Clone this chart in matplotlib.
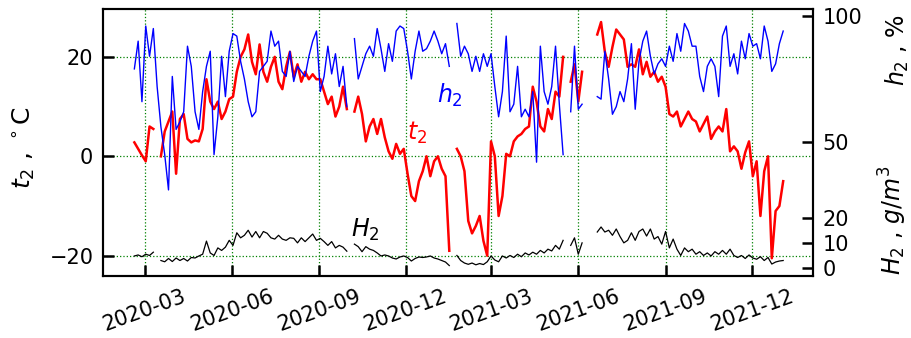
import numpy as np
import pandas as pd
import matplotlib
matplotlib.use('Agg')
import matplotlib.pyplot as plt
import matplotlib.dates as mdates

nan = np.nan

# 4-day samples, 2020-02-19 .. 2021-12-31
dates = pd.date_range('2020-02-19', periods=172, freq='4D')

# t2, deg C (left axis)
t2 = [2.8, 1.5, 0.2, -1.0, 6.0, 5.5, nan, 0.0, 5.0, 7.0,
      9.0, -3.5, 7.5, 8.5, 3.5, 2.8, 3.2, 3.0, 5.5, 15.5,
      11.0, 9.5, 11.0, 7.5, 9.0, 11.5, 12.0, 17.0, 20.0, 21.5,
      24.5, 19.0, 16.5, 22.5, 17.0, 15.0, 18.0, 20.0, 15.0, 13.5,
      18.0, 21.0, 16.0, 18.5, 15.0, 17.0, 15.5, 16.5, 15.5, 15.5,
      13.0, 10.5, 12.0, 8.0, 10.0, 14.0, 9.5, nan, 9.0, 12.0,
      8.5, 3.0, 6.0, 7.5, 4.5, 7.5, 3.8, 1.0, -0.5, 2.5,
      0.5, 1.5, -3.5, -8.0, -9.0, -5.0, -3.0, 0.0, -4.0, -1.0,
      0.0, -2.5, -4.0, -19.0, nan, 1.5, 0.0, -3.0, -13.0, -15.5,
      -14.0, -12.0, -17.0, -20.0, 3.0, 0.0, -12.0, -8.0, 0.5, 0.0,
      3.0, 4.0, 4.5, 5.5, 6.0, 14.0, 11.0, 6.0, 5.0, 9.5,
      7.5, 13.0, 12.0, 20.0, nan, 15.0, 18.5, 11.0, 17.0, nan,
      nan, nan, 24.5, 27.0, 21.0, 18.0, 22.0, 25.5, 24.5, 23.5,
      18.0, 18.5, 18.0, 21.5, 16.5, 19.0, 16.0, 17.0, 15.0, 16.0,
      14.0, 8.5, 8.0, 9.0, 6.0, 7.5, 9.0, 7.5, 7.0, 5.0,
      6.5, 8.0, 3.5, 5.0, 6.0, 5.0, 9.5, 1.0, 2.0, 1.0,
      -2.5, 0.8, 3.0, -4.0, -1.0, -12.0, -3.0, 0.0, -20.5, -11.0,
      -10.0, -5.0]

# h2, % (right axis)
h2 = [79, 90, 66, 96, 84, 95, 72, 56, 45, 31,
      76, 55, 58, 62, 88, 80, 62, 55, 70, 80,
      86, 45, 60, 84, 68, 86, 93, 92, 82, 75,
      66, 60, 62, 78, 80, 82, 94, 88, 90, 78,
      76, 86, 74, 80, 78, 76, 84, 90, 94, 70,
      76, 88, 77, 85, 72, 80, 64, nan, 91, 75,
      80, 85, 88, 84, 95, 87, 78, 89, 82, 94,
      96, 95, 86, 75, 86, 94, 86, 87, 90, 94,
      90, 85, 89, 80, nan, 97, 84, 88, 85, 78,
      84, 78, 85, 80, 85, 72, 60, 70, 92, 62,
      65, 80, 60, 63, 60, 70, 42, 88, 70, 65,
      72, 88, 65, 45, nan, 62, 88, 63, 65, nan,
      nan, nan, 68, 67, 86, 75, 61, 64, 70, 66,
      75, 89, 63, 82, 90, 94, 84, 77, 81, 83,
      80, 88, 82, 93, 86, 97, 94, 88, 88, 76,
      70, 80, 83, 80, 68, 92, 96, 80, 85, 77,
      90, 83, 93, 88, 89, 83, 96, 90, 78, 81,
      89, 94]

# H2, g/m^3 (right axis)
H2 = [4.8, 5.2, 4.5, 5.5, 5.0, 6.3, nan, 3.0, 2.5, 3.8,
      2.6, 4.0, 3.0, 3.8, 2.8, 4.2, 4.0, 4.8, 5.5, 10.7,
      6.0, 5.0, 8.0, 7.0, 8.3, 11.0, 9.0, 14.0, 12.0, 13.0,
      15.0, 12.3, 14.5, 12.0, 14.5, 13.8, 12.0, 11.5, 13.0, 11.5,
      11.0, 12.0, 11.8, 10.0, 12.0, 10.5, 12.0, 13.5, 11.0, 11.8,
      10.5, 9.0, 10.5, 8.0, 9.0, 8.3, 6.7, nan, 9.5, 8.5,
      6.5, 8.5, 7.5, 7.0, 6.0, 4.8, 5.2, 4.8, 4.0, 3.6,
      4.4, 4.8, 4.2, 2.8, 3.8, 4.4, 4.2, 4.4, 4.8, 4.0,
      3.6, 3.0, 2.4, 1.0, nan, 5.0, 3.0, 2.0, 1.5, 2.0,
      1.3, 1.8, 1.4, 2.5, 4.8, 3.2, 2.5, 4.8, 4.0, 5.0,
      4.2, 5.5, 4.5, 6.0, 5.2, 6.3, 5.5, 7.0, 6.0, 7.5,
      6.8, 9.0, 7.5, 11.0, nan, 9.0, 12.0, 5.5, 10.0, nan,
      nan, nan, 14.3, 16.3, 14.3, 15.0, 13.0, 15.5, 12.5, 10.0,
      11.0, 14.0, 11.0, 14.5, 15.5, 12.7, 15.5, 11.5, 12.5, 9.5,
      14.5, 8.0, 11.5, 7.5, 5.0, 8.0, 6.5, 7.5, 5.5, 6.5,
      5.0, 6.0, 4.8, 6.5, 5.5, 7.0, 5.5, 7.5, 5.0, 4.2,
      5.0, 3.8, 5.2, 4.0, 3.5, 4.5, 3.0, 4.2, 1.6, 2.4,
      2.8, 3.0]

right_ticks = [0, 10, 20, 50, 100]

tick_size = 15
font_size = 17

fig = plt.figure(figsize=(9.12, 3.38), dpi=100)
ax = fig.add_axes([0.113, 0.183, 0.778, 0.790])
ax2 = ax.twinx()

ax.plot(dates, t2, color='red', lw=1.8)
ax2.plot(dates, h2, color='blue', lw=1.0)
ax2.plot(dates, H2, color='black', lw=0.9)

ax.set_xlim(pd.Timestamp('2020-01-17'), pd.Timestamp('2022-02-03'))
ax.set_ylim(-24.1, 29.6)
ax2.set_ylim(-3.2, 102.7)

ax.xaxis.set_major_locator(mdates.MonthLocator(bymonth=[3, 6, 9, 12]))
ax.xaxis.set_major_formatter(mdates.DateFormatter('%Y-%m'))
ax.set_yticks([-20, 0, 20])
ax2.set_yticks(right_ticks)

for a in (ax, ax2):
    a.tick_params(direction='in', length=8, width=1.8, labelsize=tick_size, pad=7)
    for s in a.spines.values():
        s.set_linewidth(1.5)
for lab in ax.get_xticklabels():
    lab.set_rotation(20)

ax.grid(True, color='green', linestyle=':', linewidth=0.9)

ax.set_ylabel(r'$t_2$ , $^\circ$C', fontsize=18)
ax.yaxis.set_label_coords(-0.093, 0.48)

fig.text(897 / 912, 1 - 50 / 338, r'$h_2$ , %', rotation=90,
         fontsize=font_size, ha='center', va='center')
fig.text(893 / 912, 1 - 220 / 338, r'$H_2$ , $g/m^3$', rotation=90,
         fontsize=font_size, ha='center', va='center')

ax.text(0.489, 0.678, r'$h_2$', color='blue', fontsize=font_size,
        ha='center', va='center', transform=ax.transAxes)
ax.text(0.442, 0.536, r'$t_2$', color='red', fontsize=font_size,
        ha='center', va='center', transform=ax.transAxes)
ax.text(0.369, 0.172, r'$H_2$', color='black', fontsize=font_size,
        ha='center', va='center', transform=ax.transAxes)

fig.savefig('out.png', dpi=100)
